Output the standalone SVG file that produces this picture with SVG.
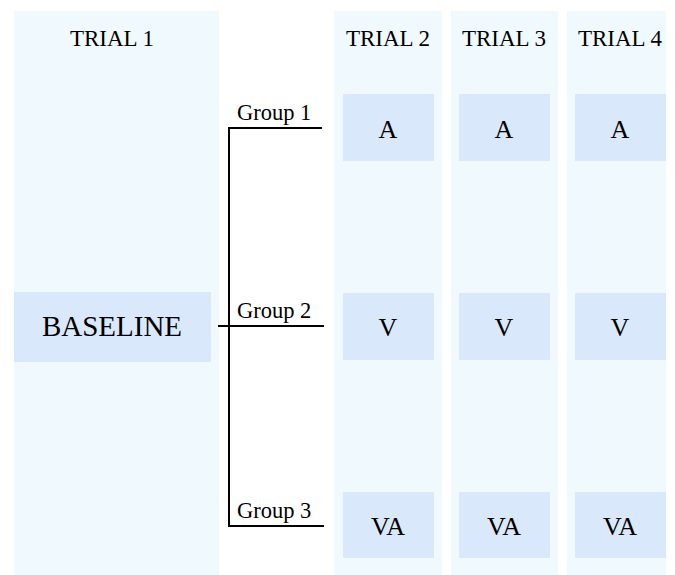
<svg xmlns="http://www.w3.org/2000/svg" width="675" height="575" viewBox="0 0 675 575">
<style>
.col{fill:#f0f9fe}
.box{fill:#dae8fc}
.t{font-family:"Liberation Serif","Times New Roman",serif;fill:#000;text-anchor:middle}
.h{font-size:23px}
.b{font-size:26px}
.g{font-family:"Liberation Serif","Times New Roman",serif;fill:#000;font-size:22.5px}
.ln{stroke:#000;stroke-width:2;fill:none}
</style>
<rect width="675" height="575" fill="#fff"/>
<g id="trial1"><rect class="col" x="14" y="11" width="205" height="564"/><text class="t h" x="112" y="46">TRIAL 1</text></g>
<g id="trial2"><rect class="col" x="334" y="11" width="108" height="564"/><text class="t h" x="388" y="46">TRIAL 2</text></g>
<g id="trial3"><rect class="col" x="451" y="11" width="107" height="564"/><text class="t h" x="504" y="46">TRIAL 3</text></g>
<g id="trial4"><rect class="col" x="567" y="11" width="99" height="564"/><text class="t h" x="620" y="46">TRIAL 4</text></g>
<g id="baseline"><rect class="box" x="14" y="292" width="197" height="70"/><text class="t" style="font-size:29px" x="112" y="336">BASELINE</text></g>
<g id="a2"><rect class="box" x="343" y="94" width="91" height="67"/><text class="t b" x="388" y="138">A</text></g>
<g id="a3"><rect class="box" x="459" y="94" width="91" height="67"/><text class="t b" x="504" y="138">A</text></g>
<g id="a4"><rect class="box" x="575" y="94" width="91" height="67"/><text class="t b" x="620" y="138">A</text></g>
<g id="v2"><rect class="box" x="343" y="293" width="91" height="67"/><text class="t b" x="388" y="336">V</text></g>
<g id="v3"><rect class="box" x="459" y="293" width="91" height="67"/><text class="t b" x="504" y="336">V</text></g>
<g id="v4"><rect class="box" x="575" y="293" width="91" height="67"/><text class="t b" x="620" y="336">V</text></g>
<g id="va2"><rect class="box" x="343" y="492" width="91" height="66"/><text class="t b" x="388" y="535">VA</text></g>
<g id="va3"><rect class="box" x="459" y="492" width="91" height="66"/><text class="t b" x="504" y="535">VA</text></g>
<g id="va4"><rect class="box" x="575" y="492" width="91" height="66"/><text class="t b" x="620" y="535">VA</text></g>
<g id="connectors">
<path class="ln" d="M322 128 H229 V526 H324"/>
<path class="ln" d="M218 326 H324"/>
<text class="g" x="237" y="120">Group 1</text>
<text class="g" x="237" y="318">Group 2</text>
<text class="g" x="237" y="518">Group 3</text>
</g>
</svg>
